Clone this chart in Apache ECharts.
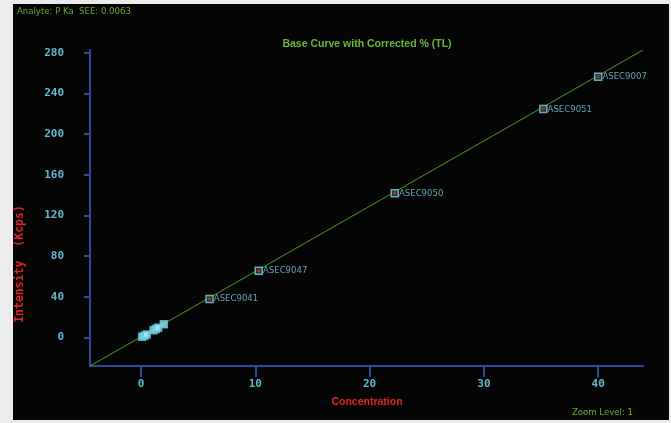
<!DOCTYPE html>
<html>
<head>
<meta charset="utf-8">
<script src="https://cdn.jsdelivr.net/npm/echarts@6/dist/echarts.min.js"></script>
<style>
  html, body { margin: 0; padding: 0; background: #ececec; width: 671px; height: 423px; overflow: hidden; }
  #chart { position: absolute; left: 13px; top: 4px; width: 656px; height: 416px; background: #050505; }
</style>
</head>
<body>
<div id="chart"></div>
<script>
// Labelled calibration standards: concentration vs. intensity (Kcps)
const standardNames = ['ASEC9041', 'ASEC9047', 'ASEC9050', 'ASEC9051', 'ASEC9007'];
const standardConc  = [6.0, 10.3, 22.2, 35.2, 40.0];
const standardInt   = [37.7, 65.5, 141.7, 224.6, 256.4];

// Low-concentration standards near the origin (unlabelled)
const lowConc = [0.1, 0.3, 0.5, 1.1, 1.3, 1.5, 2.0];
const lowInt  = [0.5, 1.6, 2.8, 7.0, 8.2, 9.5, 12.8];

// Base calibration curve endpoints (corrected %, TL)
const curveConc = [-4.46, 43.92];
const curveInt  = [-28.2, 282.7];

// Axis ranges and tick labels
const xTicks = [0, 10, 20, 30, 40];
const yTicks = [0, 40, 80, 120, 160, 200, 240, 280];
const xRange = [-4.46, 43.92];
const yRange = [-28.2, 282.7];

const axisBlue = '#2d4aa3';
const tickText = '#63b8cf';
const monoFont = '"DejaVu Sans Mono", "Liberation Mono", monospace';
const narrowFont = '"DejaVu Sans Condensed", "Liberation Sans Narrow", sans-serif';

const chart = echarts.init(document.getElementById('chart'), null, { renderer: 'canvas' });

const standards = standardConc.map((c, i) => ({ value: [c, standardInt[i]], name: standardNames[i] }));
const lows = lowConc.map((c, i) => [c, lowInt[i]]);
const curve = curveConc.map((c, i) => [c, curveInt[i]]);

chart.setOption({
  backgroundColor: '#050505',
  animation: false,
  grid: { left: 77, right: 26, top: 46, bottom: 54 },
  xAxis: {
    type: 'value',
    min: xRange[0], max: xRange[1],
    axisLine: { show: true, onZero: false, lineStyle: { color: axisBlue, width: 2 } },
    axisTick: { show: true, length: 11, customValues: xTicks, lineStyle: { color: axisBlue, width: 2 } },
    axisLabel: { customValues: xTicks, color: tickText, fontFamily: monoFont, fontWeight: 'bold', fontSize: 11, margin: 13 },
    splitLine: { show: false }
  },
  yAxis: {
    type: 'value',
    min: yRange[0], max: yRange[1],
    axisLine: { show: true, onZero: false, lineStyle: { color: axisBlue, width: 2 } },
    axisTick: { show: true, length: 6, customValues: yTicks, lineStyle: { color: axisBlue, width: 2 } },
    axisLabel: { customValues: yTicks, color: tickText, fontFamily: monoFont, fontWeight: 'bold', fontSize: 11, margin: 26 },
    splitLine: { show: false }
  },
  graphic: [
    { type: 'text', left: 4, top: 3, style: { text: 'Analyte: P Ka  SEE: 0.0063', fill: '#67a92f', font: '9.5px ' + narrowFont } },
    { type: 'text', x: 354, y: 40, style: { text: 'Base Curve with Corrected % (TL)', fill: '#66b83a', font: 'bold 10.5px "Liberation Sans", Arial, sans-serif', align: 'center', verticalAlign: 'middle' } },
    { type: 'text', x: 354, y: 398, style: { text: 'Concentration', fill: '#e02424', font: 'bold 10.5px "Liberation Sans", Arial, sans-serif', align: 'center', verticalAlign: 'middle' } },
    { type: 'text', x: 7, y: 260, rotation: Math.PI / 2, style: { text: 'Intensity  (Kcps)', fill: '#e02424', font: 'bold 11.5px ' + monoFont, align: 'center', verticalAlign: 'middle' } },
    { type: 'text', left: 559, top: 404, style: { text: 'Zoom Level: 1', fill: '#5fb52a', font: '9.5px ' + narrowFont } }
  ],
  series: [
    {
      name: 'Base Curve',
      type: 'line',
      data: curve,
      symbol: 'none',
      lineStyle: { color: '#4f9a22', width: 1 },
      z: 1,
      silent: true
    },
    {
      name: 'Low Standards',
      type: 'scatter',
      data: lows,
      symbol: 'rect',
      symbolSize: 7,
      itemStyle: { color: '#9be6f4', borderColor: '#5ec3dc', borderWidth: 1.5 },
      z: 3
    },
    {
      name: 'Standards',
      type: 'scatter',
      data: standards,
      symbol: 'rect',
      symbolSize: 7,
      itemStyle: { color: '#1c3a40', borderColor: '#7dd6ec', borderWidth: 1.5 },
      label: {
        show: true,
        position: 'right',
        distance: 0,
        formatter: p => p.name,
        color: '#7cc6dc',
        fontFamily: narrowFont,
        fontSize: 9.5
      },
      z: 4
    },
    {
      name: 'Standard Centres',
      type: 'scatter',
      data: standards.map(d => d.value),
      symbol: 'rect',
      symbolSize: 3,
      itemStyle: { color: '#d0361e' },
      z: 5,
      silent: true
    }
  ]
});
</script>
</body>
</html>
